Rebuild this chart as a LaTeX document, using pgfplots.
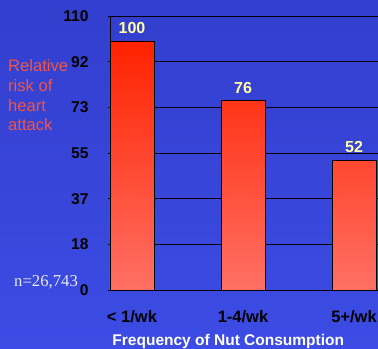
\documentclass[border=0pt]{standalone}
\usepackage{fontspec}
\setmainfont{Liberation Sans}
\newfontfamily\timesf{Liberation Serif}
\usepackage{pgfplots}
\pgfplotsset{compat=1.18}
\definecolor{bgA}{RGB}{50,62,205}
\definecolor{bgB}{RGB}{60,76,228}
\definecolor{barTop}{RGB}{255,34,0}
\definecolor{barBot}{RGB}{255,112,100}
\definecolor{ylab}{RGB}{240,85,70}
\definecolor{vlab}{RGB}{255,255,165}
\begin{document}
\begin{tikzpicture}[x=1bp,y=1bp]
\shade[top color=bgA,bottom color=bgB] (0,0) rectangle (378,349);
\path[use as bounding box] (0,0) rectangle (378,349);
\begin{axis}[
  at={(110bp,59bp)}, anchor=south west,
  scale only axis, width=268bp, height=274bp,
  xmin=-0.198, xmax=2.216, ymin=0, ymax=110,
  xtick={0,1,2}, xticklabels={< 1/wk, 1-4/wk, 5+/wk},
  ytick={0,18.3333,36.6667,55,73.3333,91.6667,110},
  yticklabels={0,18,37,55,73,92,110},
  /pgf/number format/assume math mode=true,
  ymajorgrids, grid style={black, line width=0.8bp},
  axis line style={black, line width=0.8bp},
  xtick style={draw=none},
  ytick style={black, line width=0.6bp},
  tick align=outside, major tick length=2bp,
  yticklabel style={font=\bfseries\fontsize{15.6bp}{15.6bp}\selectfont, text=black, xshift=-16bp},
  xticklabel style={font=\bfseries\fontsize{16.5bp}{16.5bp}\selectfont, text=black, anchor=base, inner sep=0pt, yshift=-30bp},
  clip=false,
  ybar, bar width=44bp,
  nodes near coords,
  every node near coord/.append style={font=\bfseries\fontsize{16bp}{16bp}\selectfont, text=vlab, anchor=base, inner sep=0pt, yshift=7.5bp},
]
\addplot[ybar, draw=black, line width=0.8bp, top color=barTop, bottom color=barBot]
  coordinates {(0,100) (1,76) (2,52)};
\end{axis}
\node[anchor=base west, inner sep=0, text=ylab, font=\fontsize{16.6bp}{16.6bp}\selectfont] at (8,277.3) {Relative};
\node[anchor=base west, inner sep=0, text=ylab, font=\fontsize{16.6bp}{16.6bp}\selectfont] at (8,257.5) {risk of};
\node[anchor=base west, inner sep=0, text=ylab, font=\fontsize{16.6bp}{16.6bp}\selectfont] at (8,237.5) {heart};
\node[anchor=base west, inner sep=0, text=ylab, font=\fontsize{16.6bp}{16.6bp}\selectfont] at (8,218.5) {attack};
\node[anchor=base west, inner sep=0, text={rgb,255:red,232;green,232;blue,240}, font=\timesf\fontsize{16.7bp}{16.7bp}\selectfont] at (14,62.3) {n=26,743};
\node[anchor=base, inner sep=0, text=white, font=\bfseries\fontsize{15.5bp}{15.5bp}\selectfont] at (228.3,3.5) {Frequency of Nut Consumption};
\end{tikzpicture}
\end{document}
